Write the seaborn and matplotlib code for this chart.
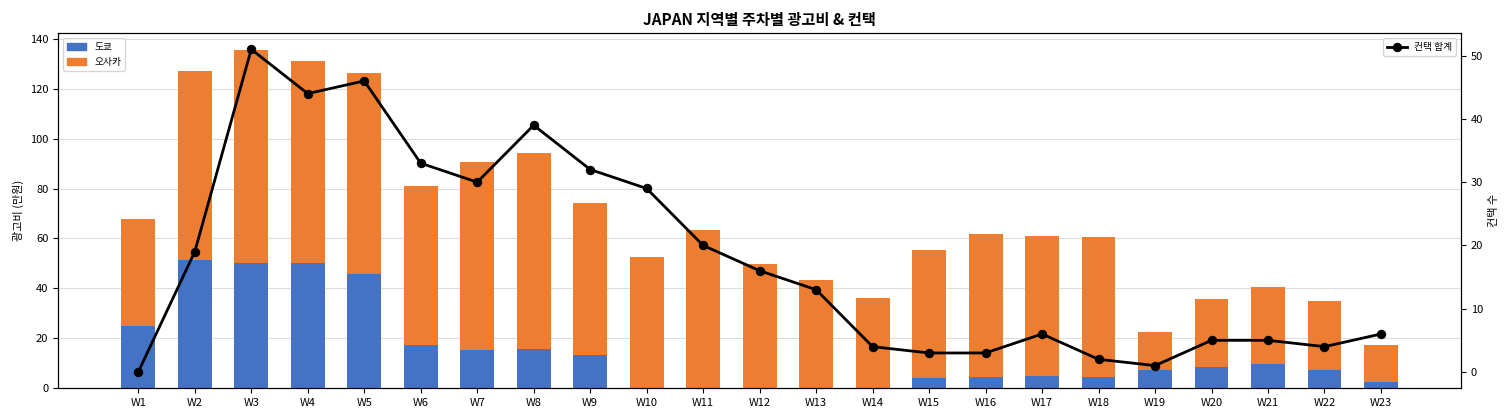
import numpy as np
import pandas as pd
import seaborn as sns
import matplotlib.pyplot as plt
from matplotlib.patches import Patch

weeks = [f"W{i}" for i in range(1, 24)]
tokyo = [25.0, 51.2, 50.0, 50.0, 45.6, 17.3, 15.3, 15.7, 13.3, 0, 0, 0,
         0, 0, 4.1, 4.5, 4.9, 4.5, 7.3, 8.5, 9.7, 7.3, 2.5]
total = [67.6, 127.1, 135.5, 131.1, 126.3, 81.2, 90.8, 94.4, 74.4, 52.4, 63.2, 49.6,
         43.2, 36.1, 55.2, 61.6, 60.9, 60.4, 22.5, 35.7, 40.5, 34.9, 17.3]
osaka = [round(t - k, 1) for t, k in zip(total, tokyo)]
contacts = [0, 19, 51, 44, 46, 33, 30, 39, 32, 29, 20, 16, 13, 4, 3, 3, 6, 2, 1, 5, 5, 4, 6]

BLUE = "#4472C4"
ORANGE = "#ED7D31"

plt.rcParams['font.family'] = ['Noto Sans CJK KR', 'DejaVu Sans']

df = pd.DataFrame({"week": weeks, "tokyo": tokyo, "osaka": osaka, "total": total,
                   "contacts": contacts, "pos": np.arange(len(weeks))})

fig = plt.figure(figsize=(15.12, 4.2), dpi=100)
ax = fig.add_axes([0.0384, 0.076, 0.928, 0.845])

# stacked bars: total (orange) drawn first, tokyo (blue) on top
sns.barplot(data=df, x="week", y="total", color=ORANGE, saturation=1, width=0.6,
            linewidth=0, ax=ax)
sns.barplot(data=df, x="week", y="tokyo", color=BLUE, saturation=1, width=0.6,
            linewidth=0, ax=ax)
ax.set_axisbelow(True)
ax.yaxis.grid(True, color="#dddddd", linewidth=0.8)
ax.set_xlabel("")
ax.set_ylabel("광고비 (만원)", fontsize=8)
ax.tick_params(labelsize=8)
ax.set_xlim(-1.42, 23.42)
ax.set_ylim(0, 142.3)
ax.legend(handles=[Patch(color=BLUE, label="도쿄"), Patch(color=ORANGE, label="오사카")],
          loc="upper left", fontsize=7)

ax2 = ax.twinx()
sns.lineplot(data=df, x="pos", y="contacts", color="black", linewidth=2,
             marker="o", markersize=6, markeredgecolor="black", label="컨택 합계", ax=ax2)
ax2.set_xlim(-1.42, 23.42)
ax2.set_ylim(-2.55, 53.55)
ax2.set_ylabel("컨택 수", fontsize=8)
ax2.tick_params(labelsize=8)
ax2.legend(loc="upper right", fontsize=7)

ax.set_title("JAPAN 지역별 주차별 광고비 & 컨택", fontsize=11, fontweight="bold")

fig.savefig("out.png", dpi=100)
